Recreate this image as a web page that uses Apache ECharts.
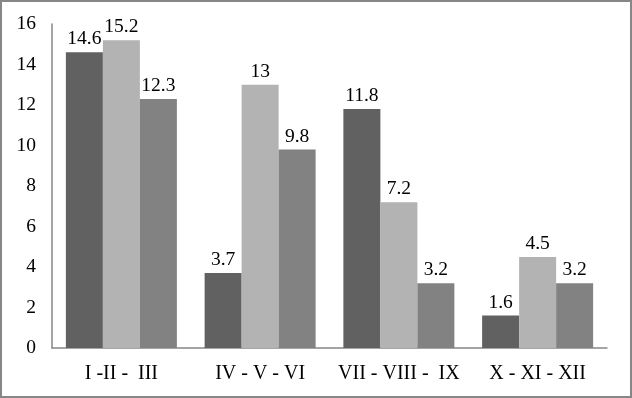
<!DOCTYPE html>
<html>
<head>
<meta charset="utf-8">
<script src="https://cdn.jsdelivr.net/npm/echarts@6/dist/echarts.min.js"></script>
<style>
  html, body { margin: 0; padding: 0; background: #fff; }
  #chart { width: 632px; height: 398px; }
</style>
</head>
<body>
<div id="chart"></div>
<script>
// quarter groups on the x axis
var categories = ['I -II -  III', 'IV - V - VI', 'VII - VIII -  IX', 'X - XI - XII']
// three series, one per month of the quarter
var seriesA = [14.6, 3.7, 11.8, 1.6]
var seriesB = [15.2, 13, 7.2, 4.5]
var seriesC = [12.3, 9.8, 3.2, 3.2]
var yTicks = { min: 0, max: 16, interval: 2 }

var font = '"Liberation Serif", "Times New Roman", serif'

var chart = echarts.init(document.getElementById('chart'))

function bar(data, color) {
  return {
    type: 'bar',
    data: data,
    barGap: '0%',
    barCategoryGap: '20%',
    itemStyle: { color: color },
    label: {
      show: true,
      position: 'top',
      distance: 3,
      color: '#000',
      fontFamily: font,
      fontSize: 19.5
    }
  }
}

chart.setOption({
  animation: false,
  backgroundColor: '#fff',
  grid: { left: 52, right: 25, top: 24, bottom: 50 },
  graphic: [{
    type: 'rect',
    shape: { x: 1, y: 1, width: 630, height: 396 },
    style: { fill: 'none', stroke: '#878787', lineWidth: 2 }
  }],
  xAxis: {
    type: 'category',
    data: categories,
    axisLine: { lineStyle: { color: '#868686', width: 1.5 } },
    axisTick: { show: false },
    axisLabel: {
      interval: 0,
      hideOverlap: false,
      color: '#000',
      fontFamily: font,
      fontSize: 20,
      margin: 16
    }
  },
  yAxis: {
    type: 'value',
    min: yTicks.min,
    max: yTicks.max,
    interval: yTicks.interval,
    splitLine: { show: false },
    axisLine: { show: true, lineStyle: { color: '#868686', width: 1.5 } },
    axisTick: { show: false },
    axisLabel: { color: '#000', fontFamily: font, fontSize: 19.5, margin: 16 }
  },
  series: [
    bar(seriesA, '#616161'),
    bar(seriesB, '#b3b3b3'),
    bar(seriesC, '#828282')
  ]
})
</script>
</body>
</html>
